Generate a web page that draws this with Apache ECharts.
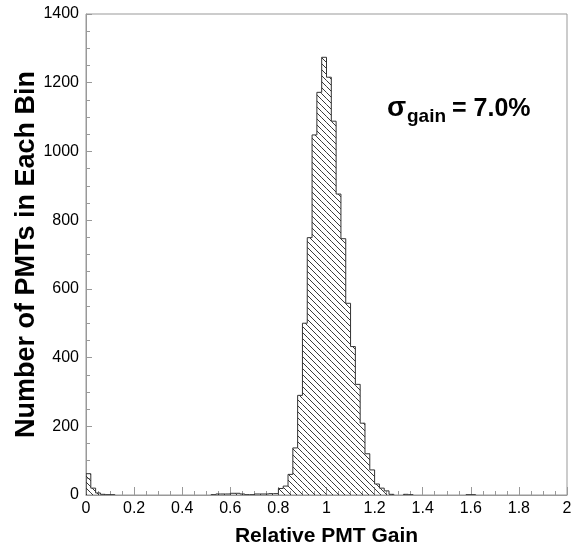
<!DOCTYPE html>
<html>
<head>
<meta charset="utf-8">
<script src="https://cdn.jsdelivr.net/npm/echarts@6/dist/echarts.min.js"></script>
<style>
  html, body { margin: 0; padding: 0; background: #fff; }
  #chart { width: 582px; height: 546px; }
</style>
</head>
<body>
<div id="chart"></div>
<script>
// Histogram of relative PMT gain, 0.02-wide bins from 0 to 2
const binWidth = 0.02;
const binCounts = [
  62, 20, 6, 2, 1, 1, 0, 0, 0, 0,
  0, 0, 0, 0, 0, 0, 0, 0, 0, 0,
  0, 0, 0, 0, 0, 0, 1, 3, 3, 3,
  5, 5, 3, 1, 1, 3, 3, 3, 4, 4,
  19, 26, 60, 137, 290, 500, 749, 1048, 1172, 1274,
  1216, 1088, 876, 746, 558, 432, 322, 209, 120, 73,
  32, 20, 12, 2, 0, 0, 2, 1, 0, 0,
  0, 0, 0, 0, 0, 0, 0, 0, 0, 1,
  1, 0, 0, 0, 0, 0, 0, 0, 0, 0,
  0, 0, 0, 0, 0, 0, 0, 0, 0, 0
];
const xTicks = { min: 0, max: 2, step: 0.2 };
const yTicks = { min: 0, max: 1400, step: 200 };
const xTitle = 'Relative PMT Gain';
const yTitle = 'Number of PMTs in Each Bin';

const FONT = '"Liberation Sans", Arial, sans-serif';

// diagonal hatch tile
function hatchTile() {
  const s = 6;
  const c = document.createElement('canvas');
  c.width = s; c.height = s;
  const g = c.getContext('2d');
  g.strokeStyle = '#222';
  g.lineWidth = 0.9;
  g.beginPath();
  g.moveTo(-1, -1); g.lineTo(s + 1, s + 1);
  g.moveTo(-1, s - 1); g.lineTo(1, s + 1);
  g.moveTo(s - 1, -1); g.lineTo(s + 1, 1);
  g.stroke();
  return c;
}
const hatch = { image: hatchTile(), repeat: 'repeat' };

const bins = binCounts.map((c, i) => [
  i * binWidth, (i + 1) * binWidth, c,
  i > 0 ? binCounts[i - 1] : 0,
  i < binCounts.length - 1 ? binCounts[i + 1] : 0
]);

function renderBin(params, api) {
  const x0 = api.value(0), x1 = api.value(1), c = api.value(2);
  const prev = api.value(3), next = api.value(4);
  if (c <= 0) return null;
  const pTop = api.coord([x0, c]);
  const pBot = api.coord([x1, 0]);
  const pts = [api.coord([x0, prev]), pTop, api.coord([x1, c])];
  if (next <= 0) pts.push(pBot);
  return {
    type: 'group',
    children: [
      {
        type: 'rect',
        shape: { x: pTop[0], y: pTop[1], width: pBot[0] - pTop[0], height: pBot[1] - pTop[1] },
        style: { fill: hatch, stroke: null }
      },
      {
        type: 'polyline',
        shape: { points: pts },
        style: { fill: null, stroke: '#333', lineWidth: 1 }
      }
    ]
  };
}

const chart = echarts.init(document.getElementById('chart'), null, { renderer: 'canvas' });
chart.setOption({
  animation: false,
  backgroundColor: '#fff',
  grid: {
    left: 86, right: 15, top: 14, bottom: 51,
    outerBoundsMode: 'none', containLabel: false,
    show: true, borderColor: '#999', borderWidth: 1
  },
  xAxis: {
    type: 'value', min: xTicks.min, max: xTicks.max, interval: xTicks.step,
    name: xTitle, nameLocation: 'middle', nameGap: 31, nameMoveOverlap: false,
    nameTextStyle: { fontFamily: FONT, fontWeight: 'bold', fontSize: 21, color: '#000' },
    axisLine: { show: true, lineStyle: { color: '#999', width: 1 } },
    axisTick: { show: true, inside: true, length: 8, lineStyle: { color: '#999' } },
    minorTick: { show: true, splitNumber: 4, length: 4, lineStyle: { color: '#999' } },
    axisLabel: { fontFamily: FONT, fontSize: 16, color: '#000', margin: 6, formatter: v => String(v) },
    splitLine: { show: false }
  },
  yAxis: {
    type: 'value', min: yTicks.min, max: yTicks.max, interval: yTicks.step,
    name: yTitle, nameLocation: 'middle', nameGap: 46, nameRotate: 90, nameMoveOverlap: false,
    nameTextStyle: { fontFamily: FONT, fontWeight: 'bold', fontSize: 27, color: '#000' },
    axisLine: { show: true, lineStyle: { color: '#999', width: 1 } },
    axisTick: { show: true, inside: true, length: 6, lineStyle: { color: '#999' } },
    minorTick: { show: true, splitNumber: 4, length: 4, lineStyle: { color: '#999' } },
    axisLabel: { fontFamily: FONT, fontSize: 16, color: '#000', margin: 7, formatter: v => String(v) },
    splitLine: { show: false }
  },
  series: [{
    type: 'custom',
    renderItem: renderBin,
    encode: { x: [0, 1], y: 2 },
    data: bins,
    clip: true
  }],
  graphic: [
    { type: 'text', left: 387, top: 94, style: { text: 'σ', font: 'bold 28px ' + FONT, fill: '#000' } },
    { type: 'text', left: 407, top: 107, style: { text: 'gain', font: 'bold 19px ' + FONT, fill: '#000' } },
    { type: 'text', left: 452, top: 97, style: { text: '= 7.0%', font: 'bold 25px ' + FONT, fill: '#000' } }
  ]
});
</script>
</body>
</html>
